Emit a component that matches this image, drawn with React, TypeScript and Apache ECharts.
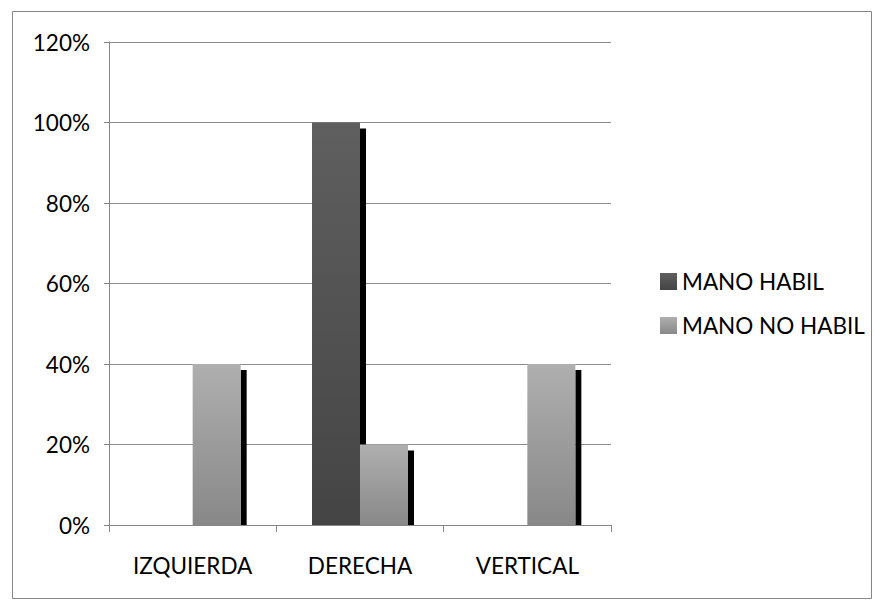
import React, { useEffect, useRef } from "react";
import * as echarts from "echarts";

const categories = ["IZQUIERDA", "DERECHA", "VERTICAL"];
const manoHabil = [0, 100, 0];
const manoNoHabil = [40, 20, 40];
const seriesNames = ["MANO HABIL", "MANO NO HABIL"];

const FONT = "Lato";
const FS = 22.5;
const BAR_W = 48;
const SHADOW_W = 6;
const SHADOW_DY = 6;

export default function App() {
  const ref = useRef<HTMLDivElement>(null);
  useEffect(() => {
    if (!ref.current) return;
    const chart = echarts.init(ref.current, undefined, { renderer: "svg" });
    const grad = (top: string, bottom: string) =>
      new echarts.graphic.LinearGradient(0, 0, 0, 1, [
        { offset: 0, color: top },
        { offset: 1, color: bottom },
      ]);
    const shadowData: number[][] = [];
    manoHabil.forEach((v, i) => shadowData.push([i, v, 0]));
    manoNoHabil.forEach((v, i) => shadowData.push([i, v, 1]));

    chart.setOption({
      animation: false,
      backgroundColor: "#ffffff",
      textStyle: { fontFamily: FONT },
      graphic: [
        {
          type: "rect",
          shape: { x: 12.5, y: 11.5, width: 859, height: 587 },
          style: { fill: "none", stroke: "#868686", lineWidth: 1 },
          silent: true,
        },
      ],
      grid: { left: 109, top: 42, right: 264, bottom: 87 },
      legend: {
        orient: "vertical",
        left: 655,
        top: 265,
        icon: "rect",
        itemWidth: 17,
        itemHeight: 17,
        itemGap: 21,
        textStyle: { fontFamily: FONT, fontSize: FS, color: "#000000" },
        data: seriesNames,
      },
      xAxis: {
        type: "category",
        data: categories,
        axisLine: { lineStyle: { color: "#868686" } },
        axisTick: { show: true, length: 7, lineStyle: { color: "#868686" } },
        axisLabel: { margin: 29, fontSize: FS, color: "#000000", fontFamily: FONT },
      },
      yAxis: {
        type: "value",
        min: 0,
        max: 120,
        interval: 20,
        axisLine: { show: true, lineStyle: { color: "#868686" } },
        axisTick: { show: true, length: 5, lineStyle: { color: "#868686" } },
        splitLine: { lineStyle: { color: "#8c8c8c" } },
        axisLabel: {
          formatter: "{value}%",
          margin: 19,
          fontSize: FS,
          color: "#000000",
          fontFamily: FONT,
        },
      },
      series: [
        {
          type: "custom",
          silent: true,
          z: 1,
          data: shadowData,
          encode: { x: 0, y: 1 },
          renderItem: (params: any, api: any) => {
            const cat = api.value(0);
            const val = api.value(1);
            const s = api.value(2);
            if (!val) return null;
            const top = api.coord([cat, val]);
            const base = api.coord([cat, 0]);
            const x0 = s === 0 ? top[0] : top[0] + BAR_W;
            return {
              type: "rect",
              shape: {
                x: x0,
                y: top[1] + SHADOW_DY,
                width: SHADOW_W,
                height: base[1] - top[1] - SHADOW_DY,
              },
              style: { fill: "#000000" },
            };
          },
        },
        {
          name: seriesNames[0],
          type: "bar",
          z: 2,
          data: manoHabil,
          barWidth: BAR_W,
          barGap: "0%",
          itemStyle: { color: grad("#5f5f5f", "#444444") },
        },
        {
          name: seriesNames[1],
          type: "bar",
          z: 2,
          data: manoNoHabil,
          barWidth: BAR_W,
          barGap: "0%",
          itemStyle: { color: grad("#afafaf", "#888888") },
        },
      ],
    });
    return () => chart.dispose();
  }, []);
  return (
    <div
      ref={ref}
      style={{ position: "fixed", left: 0, top: 0, width: 875, height: 612 }}
    />
  );
}
